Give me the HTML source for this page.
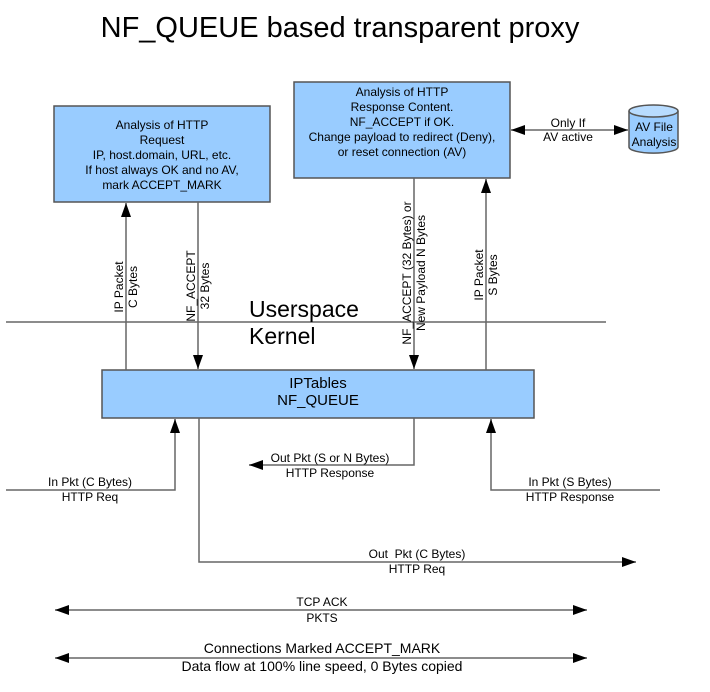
<!DOCTYPE html>
<html><head><meta charset="utf-8"><style>body{margin:0;background:#fff}svg{display:block}text{font-family:"Liberation Sans",sans-serif;fill:#000}</style></head><body>
<svg width="710" height="692" viewBox="0 0 710 692" xmlns="http://www.w3.org/2000/svg">
<defs>
<marker id="b" viewBox="0 0 14 10" refX="14" refY="5" markerWidth="14" markerHeight="10" markerUnits="userSpaceOnUse" orient="auto-start-reverse"><path d="M0,0L14,5L0,10z" fill="#000"/></marker>
</defs>
<text x="340" y="37" font-size="29" text-anchor="middle">NF_QUEUE based transparent proxy</text>
<g fill="#99ccff" stroke="#555" stroke-width="1.5">
<rect x="54" y="106" width="216" height="96"/>
<rect x="294" y="82" width="216" height="96"/>
<rect x="102" y="370" width="432" height="48"/>
</g>
<g font-size="12" text-anchor="middle">
<text x="162" y="129">Analysis of HTTP</text>
<text x="162" y="144">Request</text>
<text x="162" y="159">IP, host.domain, URL, etc.</text>
<text x="162" y="174">If host always OK and no AV,</text>
<text x="162" y="189">mark ACCEPT_MARK</text>
<text x="402" y="96">Analysis of HTTP</text>
<text x="402" y="111">Response Content.</text>
<text x="402" y="126">NF_ACCEPT if OK.</text>
<text x="402" y="141">Change payload to redirect (Deny),</text>
<text x="402" y="156">or reset connection (AV)</text>
<text x="568" y="127">Only If</text>
<text x="568" y="141">AV active</text>
</g>
<g font-size="15" text-anchor="middle">
<text x="318" y="388">IPTables</text>
<text x="318" y="405">NF_QUEUE</text>
</g>
<path d="M629,111 L629,147 A24,6 0 0 0 678,147 L678,111" fill="#99ccff" stroke="#555" stroke-width="1.5"/>
<ellipse cx="653.5" cy="111" rx="24.5" ry="6" fill="#b8dcff" stroke="#555" stroke-width="1.5"/>
<text x="654" y="131" font-size="12" text-anchor="middle">AV File</text>
<text x="654" y="146" font-size="12" text-anchor="middle">Analysis</text>
<line x1="6" y1="322" x2="606" y2="322" stroke="#666" stroke-width="1.5"/>
<text x="249" y="317" font-size="23">Userspace</text>
<text x="249" y="344" font-size="23">Kernel</text>
<g stroke="#666" stroke-width="1.5" fill="none">
<line x1="126" y1="370" x2="126" y2="203" marker-end="url(#b)"/>
<line x1="198" y1="202" x2="198" y2="369" marker-end="url(#b)"/>
<line x1="414" y1="178" x2="414" y2="369" marker-end="url(#b)"/>
<line x1="486" y1="370" x2="486" y2="179" marker-end="url(#b)"/>
<line x1="511" y1="130" x2="628" y2="130" marker-start="url(#b)" marker-end="url(#b)"/>
<polyline points="6,490 175,490 175,419" marker-end="url(#b)"/>
<polyline points="414,418 414,465 249,465" marker-end="url(#b)"/>
<polyline points="660,490 491,490 491,419" marker-end="url(#b)"/>
<polyline points="199,418 199,562 636,562" marker-end="url(#b)"/>
<line x1="55" y1="610" x2="587" y2="610" marker-start="url(#b)" marker-end="url(#b)"/>
<line x1="55" y1="658" x2="587" y2="658" marker-start="url(#b)" marker-end="url(#b)"/>
</g>
<g font-size="12" text-anchor="middle">
<text transform="translate(123,287) rotate(-90)">IP Packet</text>
<text transform="translate(137,287) rotate(-90)">C Bytes</text>
<text transform="translate(195,286) rotate(-90)">NF_ACCEPT</text>
<text transform="translate(209,286) rotate(-90)">32 Bytes</text>
<text transform="translate(411,273) rotate(-90)">NF_ACCEPT (32 Bytes) or</text>
<text transform="translate(425,273) rotate(-90)">New Payload N Bytes</text>
<text transform="translate(483,275) rotate(-90)">IP Packet</text>
<text transform="translate(497,275) rotate(-90)">S Bytes</text>
<text x="90" y="486">In Pkt (C Bytes)</text>
<text x="90" y="501">HTTP Req</text>
<text x="330" y="462">Out Pkt (S or N Bytes)</text>
<text x="330" y="477">HTTP Response</text>
<text x="570" y="486">In Pkt (S Bytes)</text>
<text x="570" y="501">HTTP Response</text>
<text x="417" y="558">Out &#160;Pkt (C Bytes)</text>
<text x="417" y="573">HTTP Req</text>
<text x="322" y="606">TCP ACK</text>
<text x="322" y="622">PKTS</text>
</g>
<g font-size="14" text-anchor="middle">
<text x="322" y="653">Connections Marked ACCEPT_MARK</text>
<text x="322" y="671">Data flow at 100% line speed, 0 Bytes copied</text>
</g>
</svg>
</body></html>
